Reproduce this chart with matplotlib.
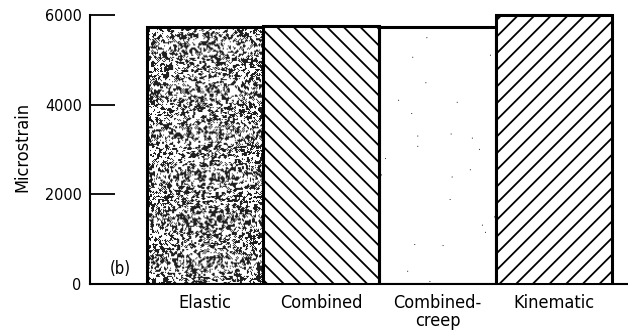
import matplotlib.pyplot as plt
import numpy as np

plt.rcParams['hatch.linewidth'] = 1.3

categories = ['Elastic', 'Combined', 'Combined-\ncreep', 'Kinematic']
microstrain = [5740, 5750, 5720, 6000]
hatches = [None, '\\\\', None, '//']
yticks = [0, 2000, 4000, 6000]

font = dict(family='DejaVu Sans', stretch='condensed')

fig = plt.figure(figsize=(6.28, 3.36), dpi=100)
ax = fig.add_axes([0.1433, 0.1548, 0.8567, 0.8155])

x = np.arange(len(categories))
bars = ax.bar(x, microstrain, width=1.0, color='white', edgecolor='black',
              linewidth=2.2, zorder=3)
for bar, h in zip(bars, hatches):
    if h:
        bar.set_hatch(h)
    else:
        bar.set_facecolor('none')


def speckle(bar, density, smooth, seed, dark=0.0):
    # stipple texture clipped to the bar outline
    rng = np.random.default_rng(seed)
    w = int(bar.get_width() * 116)
    hgt = int(bar.get_height() / 1000 * 44)
    n = rng.random((hgt, w))
    for _ in range(smooth):
        n = (n + np.roll(n, 1, 0) + np.roll(n, 1, 1) + np.roll(n, -1, 0) + np.roll(n, -1, 1)) / 5
    if smooth:
        n = (n - n.mean()) / n.std()
        img = np.where(n > density, dark, 1.0)
    else:
        img = np.where(n < density, 0.2, 1.0)
    x0 = bar.get_x()
    im = ax.imshow(img, cmap='gray', vmin=0, vmax=1, interpolation='antialiased',
                   extent=[x0, x0 + bar.get_width(), 0, bar.get_height()],
                   aspect='auto', zorder=2)
    im.set_clip_path(bar)


speckle(bars[0], 0.2, 1, 3, dark=0.12)
speckle(bars[2], 0.0012, 0, 7)

ax.set_xlim(-0.99, 3.64)
ax.set_ylim(0, 6110)
ax.set_aspect('auto')

ax.spines['top'].set_visible(False)
ax.spines['right'].set_visible(False)
ax.spines['left'].set_bounds(0, 6000)
ax.spines['left'].set_linewidth(1.5)
ax.spines['bottom'].set_linewidth(1.5)

ax.set_yticks(yticks)
ax.set_yticklabels([str(v) for v in yticks], fontsize=11.5, **font)
ax.tick_params(axis='y', direction='in', length=18, width=1.3, pad=6)
ax.set_xticks(x)
ax.set_xticklabels(categories, fontsize=13, linespacing=1.05, **font)
ax.tick_params(axis='x', length=0, pad=7)

ax.set_ylabel('Microstrain', fontsize=13, labelpad=10, **font)
ax.text(-0.73, 330, '(b)', fontsize=12, ha='center', va='center', **font)

fig.savefig('out.png', dpi=100)
